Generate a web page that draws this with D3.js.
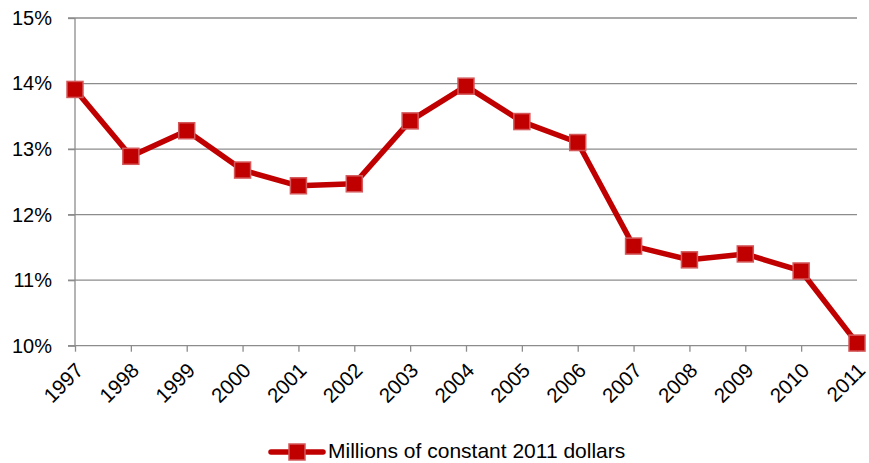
<!DOCTYPE html>
<html><head><meta charset="utf-8">
<script src="https://cdn.jsdelivr.net/npm/d3@7/dist/d3.min.js"></script>
<style>body{margin:0;background:#fff;} text{font-family:"Liberation Sans",Arial,sans-serif;fill:#000;}</style>
</head><body><svg id="c" width="869" height="463"></svg>
<script>
const years = ["1997","1998","1999","2000","2001","2002","2003","2004","2005","2006","2007","2008","2009","2010","2011"];
const values = [13.91,12.89,13.28,12.68,12.44,12.47,13.43,13.96,13.42,13.10,11.52,11.31,11.40,11.14,10.04];
const yTicks = [10,11,12,13,14,15];
const seriesName = "Millions of constant 2011 dollars";

const svg = d3.select("#c");
const pLeft = 75, pRight = 857, pTop = 18, pBottom = 345.7;
const x = d3.scalePoint().domain(years).range([pLeft, pRight]);
const y = d3.scaleLinear().domain([10,15]).range([pBottom, pTop]);
const red = "#C00000";

// gridlines
svg.append("g").selectAll("line").data(yTicks.filter(d=>d>10)).join("line")
  .attr("x1", pLeft-7).attr("x2", pRight).attr("y1", d=>y(d)).attr("y2", d=>y(d))
  .attr("stroke", "#8c8c8c").attr("stroke-width", 1.3);

// y axis
const ya = svg.append("g").attr("transform", `translate(${pLeft},0)`)
  .call(d3.axisLeft(y).tickValues(yTicks).tickFormat(d=>d+"%").tickSize(7).tickPadding(16));
ya.select(".domain").attr("stroke", "#8c8c8c").attr("stroke-width", 1.3).attr("d", `M0,${pTop}V${pBottom}`);
ya.selectAll(".tick line").attr("stroke", "#8c8c8c").attr("stroke-width", 1.3);
ya.selectAll(".tick text").attr("font-size", "20px").style("font-family", "Liberation Sans, Arial, sans-serif").attr("fill","#000");

// x axis
const xa = svg.append("g").attr("transform", `translate(0,${pBottom})`)
  .call(d3.axisBottom(x).tickSize(6).tickSizeOuter(0));
xa.select(".domain").attr("stroke", "#8c8c8c").attr("stroke-width", 1.3).attr("d", `M${pLeft-7},0H${pRight}`);
xa.selectAll(".tick line").attr("stroke", "#8c8c8c").attr("stroke-width", 1.3);
xa.selectAll(".tick text").attr("font-size", "20.5px").style("font-family", "Liberation Sans, Arial, sans-serif").attr("fill","#000")
  .attr("text-anchor", "end").attr("x", 0).attr("y", 0).attr("dy", 0)
  .attr("transform", "translate(9,26) rotate(-45)");

// line
const line = d3.line().x((d,i)=>x(years[i])).y(d=>y(d));
svg.append("path").datum(values).attr("d", line).attr("fill","none")
  .attr("stroke", red).attr("stroke-width", 5.5).attr("stroke-linejoin","round");

// markers
const ms = 16;
svg.append("g").selectAll("rect").data(values).join("rect")
  .attr("x", (d,i)=>x(years[i])-ms/2).attr("y", d=>y(d)-ms/2)
  .attr("width", ms).attr("height", ms)
  .attr("fill", red).attr("stroke", "#D4585A").attr("stroke-width", 1.5);

// legend
const lg = svg.append("g");
lg.append("line").attr("x1", 271).attr("x2", 323).attr("y1", 452).attr("y2", 452)
  .attr("stroke", red).attr("stroke-width", 5.5).attr("stroke-linecap","round");
lg.append("rect").attr("x", 297-ms/2).attr("y", 452-ms/2).attr("width", ms).attr("height", ms)
  .attr("fill", red).attr("stroke", "#D4585A").attr("stroke-width", 1.5);
lg.append("text").attr("x", 328).attr("y", 458).attr("font-size", "21px").text(seriesName);
</script></body></html>
